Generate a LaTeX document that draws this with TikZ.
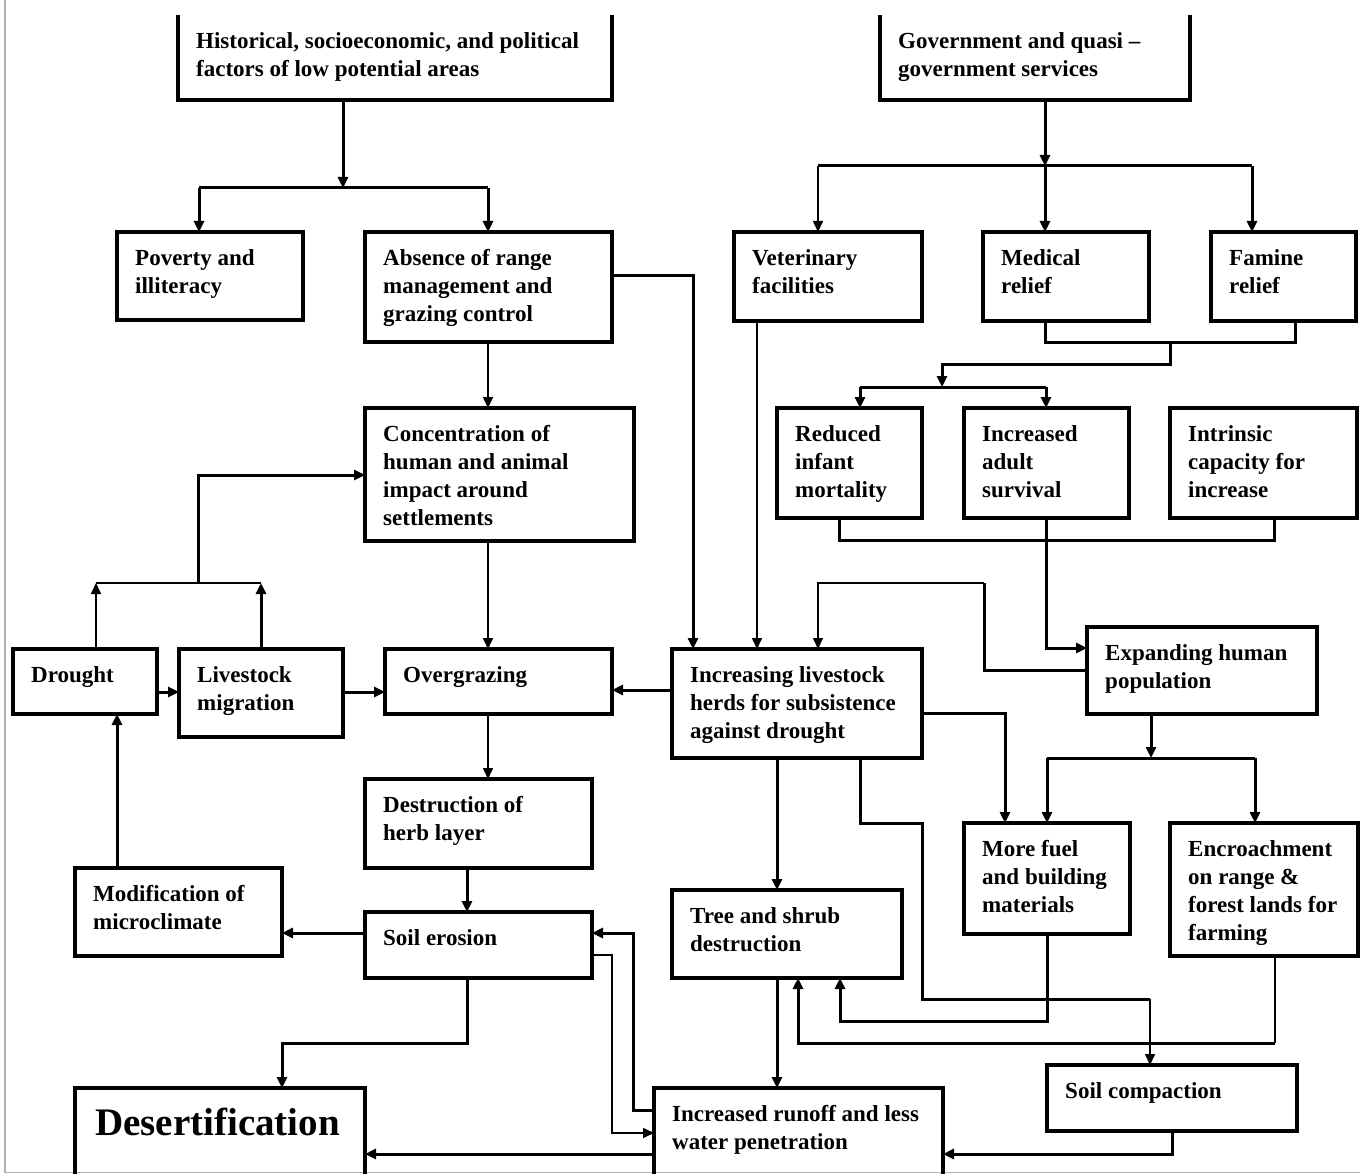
\documentclass[tikz,border=0pt]{standalone}
\usepackage{fontspec}
\setmainfont{Liberation Serif}
\usetikzlibrary{arrows.meta}
\tikzset{
  boxline/.style={line width=3.2pt},
  box/.style={draw, boxline, inner sep=0pt, outer sep=0pt, anchor=north west},
  openbox/.style={inner sep=0pt, outer sep=0pt, anchor=north west},
  lbl/.style={anchor=north west, inner sep=0pt, align=left,
    font=\bfseries\fontsize{23}{28}\selectfont, xshift=18pt, yshift=-17pt},
  biglbl/.style={anchor=north west, inner sep=0pt, align=left,
    font=\bfseries\fontsize{39}{44}\selectfont, xshift=20pt, yshift=-17pt},
  thk/.style={line width=3pt},
  thn/.style={line width=1.6pt},
  arr/.style={-{Triangle[length=11pt,width=10pt]}},
}
\newcommand\mkbox[7][box]{\node[#1, minimum width=#5pt-#3pt, minimum height=#6pt-#4pt,
  label={[lbl]north west:{\rule{0pt}{16pt}#7}}] (#2) at (#3,#4) {};}
\begin{document}
\begin{tikzpicture}[x=1pt,y=-1pt]
\useasboundingbox (0,0) rectangle (1360,1174);
\draw[gray!60, line width=1.5pt] (5,0) -- (5,1172.5) -- (1360,1172.5);

% boxes
\mkbox[openbox]{hist}{178}{15}{612}{100}{Historical, socioeconomic, and political\\factors of low potential areas}
\mkbox[openbox]{gov}{880}{15}{1190}{100}{Government and quasi –\\government services}
\mkbox{pov}{117}{232}{303}{320}{Poverty and\\illiteracy}
\mkbox{abs}{365}{232}{612}{342}{Absence of range\\management and\\grazing control}
\mkbox{vet}{734}{232}{922}{321}{Veterinary\\facilities}
\mkbox{med}{983}{232}{1149}{321}{Medical\\relief}
\mkbox{fam}{1211}{232}{1356}{321}{Famine\\relief}
\mkbox{red}{777}{408}{922}{518}{Reduced\\infant\\mortality}
\mkbox{inc}{964}{408}{1129}{518}{Increased\\adult\\survival}
\mkbox{intr}{1170}{408}{1357}{518}{Intrinsic\\capacity for\\increase}
\mkbox{conc}{365}{408}{634}{541}{Concentration of\\human and animal\\impact around\\settlements}
\mkbox{drou}{13}{649}{157}{714}{Drought}
\mkbox{lmig}{179}{649}{343}{737}{Livestock\\migration}
\mkbox{overg}{385}{649}{612}{714}{Overgrazing}
\mkbox{herds}{672}{649}{922}{758}{Increasing livestock\\herds for subsistence\\against drought}
\mkbox{expand}{1087}{627}{1317}{714}{Expanding human\\population}
\mkbox{destr}{365}{779}{592}{868}{Destruction of\\herb layer}
\mkbox{modif}{75}{868}{282}{956}{Modification of\\microclimate}
\mkbox{soil}{365}{912}{592}{978}{Soil erosion}
\mkbox{tree}{672}{890}{902}{978}{Tree and shrub\\destruction}
\mkbox{fuel}{964}{823}{1130}{934}{More fuel\\and building\\materials}
\mkbox{encr}{1170}{823}{1358}{956}{Encroachment\\on range \&\\forest lands for\\farming}
\mkbox{compact}{1047}{1065}{1297}{1131}{Soil compaction}
\node[openbox, minimum width=290pt, minimum height=86pt,
  label={[biglbl]north west:{\rule{0pt}{30pt}Desertification}}] (desert) at (75,1088) {};
\mkbox[openbox]{runoff}{654}{1088}{943}{1174}{Increased runoff and less\\water penetration}

% open boxes
\draw[boxline] (hist.north west) -- (hist.south west) -- (hist.south east) -- (hist.north east);
\draw[boxline] (gov.north west) -- (gov.south west) -- (gov.south east) -- (gov.north east);
\draw[boxline] (desert.south west) -- (desert.north west) -- (desert.north east) -- (desert.south east);
\draw[boxline] (runoff.south west) -- (runoff.north west) -- (runoff.north east) -- (runoff.south east);

% junction coordinates
\coordinate (jh) at (343,188);
\coordinate (jpov) at (199,188);
\coordinate (jabs) at (488,188);
\coordinate (jg) at (1045,166);
\coordinate (jv) at (818,166);
\coordinate (jf) at (1252,166);
\coordinate (jr) at (860,387);
\coordinate (ji) at (1046,387);
\coordinate (je) at (1151,758);
\coordinate (jfu) at (1047,758);
\coordinate (jen) at (1255,758);
\coordinate (jd) at (96,583);
\coordinate (jl) at (261,583);

% top left
\draw[thk,arr] (jh |- hist.south) -- (jh);
\draw[thk] (jpov) -- (jabs);
\draw[thk,arr] (jpov) -- (jpov |- pov.north);
\draw[thk,arr] (jabs) -- (jabs |- abs.north);
\draw[thk,arr] (abs.east |- 0,276) -| (693,0 |- herds.north);
\draw[thn,arr] (488,0 |- abs.south) -- (488,0 |- conc.north);

% government
\draw[thk,arr] (jg |- gov.south) -- (jg);
\draw[thk] (jv) -- (jf);
\draw[thn,arr] (jv) -- (jv |- vet.north);
\draw[thk,arr] (jg) -- (jg |- med.north);
\draw[thk,arr] (jf) -- (jf |- fam.north);
\draw[thk] (1045,0 |- med.south) -- (1045,342) -- (1295,342) -- (1295,0 |- fam.south);
\draw[thk,arr] (1170,342) -- (1170,364) -- (942,364) -- (942,387);
\draw[thk] (jr) -- (ji);
\draw[thk,arr] (jr) -- (jr |- red.north);
\draw[thk,arr] (ji) -- (ji |- inc.north);
\draw[thk] (839,0 |- red.south) -- (839,540) -- (1274,540) -- (1274,0 |- intr.south);
\draw[thk,arr] (1046,0 |- inc.south) |- (expand.west |- 0,648);
\draw[thk] (expand.west |- 0,670) -- (984,670) -- (984,583);
\draw[thn,arr] (984,583) -- (818,583) -- (818,0 |- herds.north);
\draw[thn,arr] (757,0 |- vet.south) -- (757,0 |- herds.north);

% middle left
\draw[thk,arr] (herds.west |- 0,690) -- (overg.east |- 0,690);
\draw[thn,arr] (488,0 |- conc.south) -- (488,0 |- overg.north);
\draw[thk,arr] (drou.east |- 0,692) -- (lmig.west |- 0,692);
\draw[thk,arr] (lmig.east |- 0,692) -- (overg.west |- 0,692);
\draw[thn,arr] (jd |- drou.north) -- (jd);
\draw[thk,arr] (jl |- lmig.north) -- (jl);
\draw[thn] (jd) -- (jl);
\draw[thk,arr] (198,583) |- (conc.west |- 0,475);
\draw[thk,arr] (117,0 |- modif.north) -- (117,0 |- drou.south);

% lower left
\draw[thn,arr] (488,0 |- overg.south) -- (488,0 |- destr.north);
\draw[thk,arr] (467,0 |- destr.south) -- (467,0 |- soil.north);
\draw[thk,arr] (soil.west |- 0,933) -- (modif.east |- 0,933);
\draw[thk,arr] (467,0 |- soil.south) -- (467,1043) -- (282,1043) -- (282,0 |- desert.north);
\draw[thk,arr] (runoff.west |- 0,1110) -- (633,1110) -- (633,933) -- (soil.east |- 0,933);
\draw[thn,arr] (soil.east |- 0,955) -- (612,955) -- (612,1133) -- (runoff.west |- 0,1133);
\draw[thk,arr] (runoff.west |- 0,1154) -- (desert.east |- 0,1154);

% lower right
\draw[thk,arr] (777,0 |- herds.south) -- (777,0 |- tree.north);
\draw[thk,arr] (777,0 |- tree.south) -- (777,0 |- runoff.north);
\draw[thk] (860,0 |- herds.south) -- (860,823) -- (922,823) -- (922,999) -- (1150,999);
\draw[thn,arr] (1150,999) -- (1150,0 |- compact.north);
\draw[thk,arr] (herds.east |- 0,713) -| (1005,0 |- fuel.north);
\draw[thk,arr] (je |- expand.south) -- (je);
\draw[thk] (jfu) -- (jen);
\draw[thk,arr] (jfu) -- (jfu |- fuel.north);
\draw[thk,arr] (jen) -- (jen |- encr.north);
\draw[thk,arr] (1047,0 |- fuel.south) -- (1047,1021) -- (840,1021) -- (840,0 |- tree.south);
\draw[thn] (1275,0 |- encr.south) -- (1275,1043);
\draw[thk,arr] (1275,1043) -- (798,1043) -- (798,0 |- tree.south);
\draw[thk,arr] (1172,0 |- compact.south) |- (runoff.east |- 0,1154);
\end{tikzpicture}
\end{document}
